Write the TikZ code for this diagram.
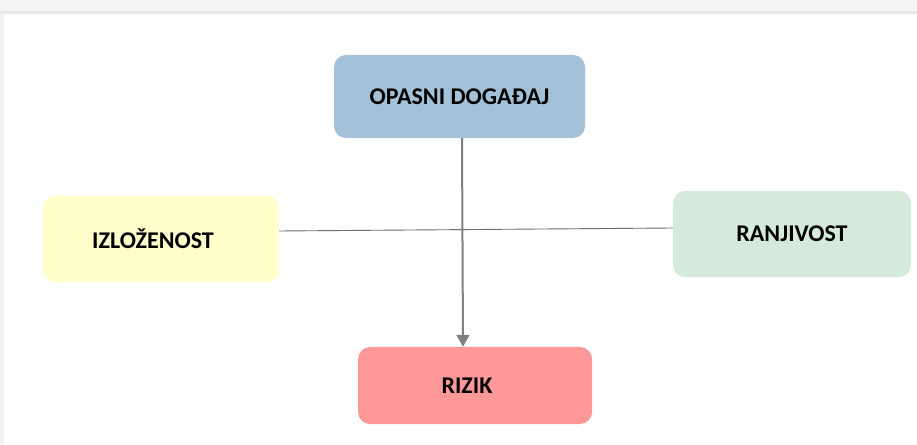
\documentclass[tikz,border=0pt]{standalone}
\usepackage{fontspec}
\setmainfont{Carlito}
\usetikzlibrary{arrows.meta}
\definecolor{hazard}{HTML}{A3C1D9}
\definecolor{expo}{HTML}{FFFFCC}
\definecolor{vuln}{HTML}{D5EADA}
\definecolor{risk}{HTML}{FF9999}
\definecolor{arrowgray}{HTML}{808080}
\definecolor{linegray}{HTML}{6E6E6E}
\tikzset{
  box/.style={rectangle, rounded corners=12pt, draw=none, inner sep=0pt,
    font=\bfseries\fontsize{24}{28}\selectfont, text=black},
}
\begin{document}
\begin{tikzpicture}[x=1pt,y=1pt]
\useasboundingbox (0,0) rectangle (917,444);
\fill[white] (0,0) rectangle (917,444);
% window-like frame
\fill[black!4] (0,431) rectangle (917,444);
\fill[black!9] (0,430) rectangle (917,433);
\fill[black!5] (0,0) rectangle (4,430);
% boxes
\node[box, fill=hazard, minimum width=251pt, minimum height=83pt] (haz) at (459.5,347.5) {OPASNI DOGAĐAJ};
\node[box, fill=expo, minimum width=236pt, minimum height=86pt] (exp) at (161,205) {\hspace{-16pt}IZLOŽENOST};
\node[box, fill=vuln, minimum width=238pt, minimum height=86pt] (vul) at (792,210) {RANJIVOST};
\node[box, fill=risk, minimum width=234pt, minimum height=77pt] (ris) at (475,58.5) {\hspace{-16pt}RIZIK};
% connectors
\coordinate (hl) at (exp.east |- 0,213);
\coordinate (hr) at (vul.west |- 0,216);
\draw[linegray, line width=0.9pt] (hl) -- (hr);
\coordinate (at) at (462,306);
\coordinate (ab) at (463,97);
\draw[arrowgray, line width=2pt, -{Triangle[length=12pt,width=13pt]}] (haz.south -| at) -- (ris.north -| ab);
\end{tikzpicture}
\end{document}
